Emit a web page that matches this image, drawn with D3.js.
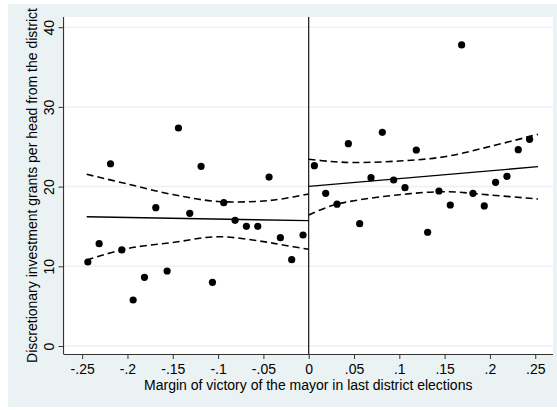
<!DOCTYPE html>
<html>
<head>
<meta charset="utf-8">
<script src="https://cdn.jsdelivr.net/npm/d3@7/dist/d3.min.js"></script>
<style>
  html, body { margin: 0; padding: 0; background: #ffffff; }
  svg { display: block; }
  text { font-family: "Liberation Sans", Arial, Helvetica, sans-serif; fill: #000; }
</style>
</head>
<body>
<svg id="chart" width="557" height="410"></svg>
<script>
// ---- data ----
const binX = [
  -0.24375, -0.23125, -0.21875, -0.20625, -0.19375, -0.18125, -0.16875, -0.15625, -0.14375, -0.13125,
  -0.11875, -0.10625, -0.09375, -0.08125, -0.06875, -0.05625, -0.04375, -0.03125, -0.01875, -0.00625,
  0.00625, 0.01875, 0.03125, 0.04375, 0.05625, 0.06875, 0.08125, 0.09375, 0.10625, 0.11875,
  0.13125, 0.14375, 0.15625, 0.16875, 0.18125, 0.19375, 0.20625, 0.21875, 0.23125, 0.24375
];
const binY = [
  10.54, 12.84, 22.87, 12.05, 5.77, 8.62, 17.35, 9.41, 27.35, 16.65,
  22.55, 7.99, 17.98, 15.77, 15.02, 15.02, 21.20, 13.59, 10.83, 13.93,
  22.62, 19.16, 17.79, 25.38, 15.35, 21.12, 26.81, 20.83, 19.86, 24.59,
  14.27, 19.45, 17.69, 37.77, 19.16, 17.57, 20.54, 21.29, 24.63, 25.93
];
// linear fits
const leftFitX = [-0.245, 0];
const leftFitY = [16.22, 15.72];
const rightFitX = [0, 0.253];
const rightFitY = [20.03, 22.50];
// confidence bands
const leftCIX = [-0.245, -0.2, -0.15, -0.1, -0.05, -0.03, 0];
const leftUpperY = [21.54, 20.33, 19.00, 18.13, 18.19, 18.45, 19.07];
const leftLowerY = [10.80, 12.23, 12.99, 13.71, 13.10, 12.70, 12.13];
const rightCIX = [0, 0.025, 0.05, 0.1, 0.15, 0.2, 0.253];
const rightUpperY = [23.43, 23.15, 23.02, 23.21, 23.75, 25.03, 26.56];
const rightLowerY = [16.44, 17.60, 18.23, 18.98, 19.36, 18.95, 18.44];
// ticks
const xTickValues = [-0.25, -0.2, -0.15, -0.1, -0.05, 0, 0.05, 0.1, 0.15, 0.2, 0.25];
const xTickLabels = ["-.25", "-.2", "-.15", "-.1", "-.05", "0", ".05", ".1", ".15", ".2", ".25"];
const yTickValues = [0, 10, 20, 30, 40];
const yTickLabels = ["0", "10", "20", "30", "40"];
const xTitle = "Margin of victory of the mayor in last district elections";
const yTitle = "Discretionary investment grants per head from the district";

// ---- layout ----
const svg = d3.select("#chart");
const bg = "#eaf2f3";
const plotL = 63.5, plotR = 553, plotT = 17, plotB = 354;

svg.append("rect").attr("x", 8).attr("y", 4).attr("width", 549).attr("height", 403).attr("fill", bg);
svg.append("rect").attr("x", 62).attr("y", plotT).attr("width", plotR - 62).attr("height", plotB - plotT).attr("fill", "#ffffff");

const x = d3.scaleLinear().domain([-0.2706, 0.2696]).range([plotL, plotR]);
const y = d3.scaleLinear().domain([0, 40]).range([346, 27.2]);

// gridlines
svg.append("g").selectAll("line").data(yTickValues).join("line")
  .attr("x1", plotL + 1).attr("x2", plotR)
  .attr("y1", d => y(d)).attr("y2", d => y(d))
  .attr("stroke", bg).attr("stroke-width", 1.5);

// vertical cutoff line
svg.append("line").attr("x1", x(0)).attr("x2", x(0)).attr("y1", plotT).attr("y2", plotB)
  .attr("stroke", "#000").attr("stroke-width", 1.1);

const line = d3.line().x(d => x(d[0])).y(d => y(d[1]));
const curve = d3.line().x(d => x(d[0])).y(d => y(d[1])).curve(d3.curveCatmullRom.alpha(0.5));
const zip = (a, b) => a.map((v, i) => [v, b[i]]);

// fits
[[leftFitX, leftFitY], [rightFitX, rightFitY]].forEach(([xs, ys]) => {
  svg.append("path").attr("d", line(zip(xs, ys))).attr("fill", "none")
    .attr("stroke", "#000").attr("stroke-width", 1.3);
});
// CI bands
[[leftCIX, leftUpperY], [leftCIX, leftLowerY], [rightCIX, rightUpperY], [rightCIX, rightLowerY]].forEach(([xs, ys]) => {
  svg.append("path").attr("d", curve(zip(xs, ys))).attr("fill", "none")
    .attr("stroke", "#000").attr("stroke-width", 1.6).attr("stroke-dasharray", "7,4");
});

// points
svg.append("g").selectAll("circle").data(zip(binX, binY)).join("circle")
  .attr("cx", d => x(d[0])).attr("cy", d => y(d[1])).attr("r", 3.6).attr("fill", "#000");

// axes
const xAxis = d3.axisBottom(x).tickValues(xTickValues).tickSize(5).tickSizeOuter(0)
  .tickFormat((d, i) => xTickLabels[i]);
const gx = svg.append("g").attr("transform", `translate(0,${plotB})`).call(xAxis);
gx.select(".domain").attr("d", `M${plotL},0.5H${plotR}`).attr("stroke", "#333").attr("stroke-width", 1.2);
gx.selectAll(".tick line").attr("stroke", "#333");
gx.selectAll(".tick text").attr("y", 20).attr("dy", 0).style("font-size", "14px")
  .style("font-family", '"Liberation Sans", Arial, sans-serif').attr("fill", "#000");

const yAxis = d3.axisLeft(y).tickValues(yTickValues).tickSize(5).tickSizeOuter(0)
  .tickFormat((d, i) => yTickLabels[i]);
const gy = svg.append("g").attr("transform", `translate(${plotL},0)`).call(yAxis);
gy.select(".domain").attr("d", `M0,${plotT}V${plotB}`).attr("stroke", "#333").attr("stroke-width", 1.2);
gy.selectAll(".tick line").attr("stroke", "#333");
gy.selectAll(".tick text").attr("transform", "rotate(-90)").attr("text-anchor", "middle")
  .attr("x", 0).attr("y", -10).attr("dy", 0).style("font-size", "14px")
  .style("font-family", '"Liberation Sans", Arial, sans-serif').attr("fill", "#000");

// titles
svg.append("text").attr("x", (plotL + plotR) / 2).attr("y", 390).attr("text-anchor", "middle")
  .style("font-size", "14px").text(xTitle);
svg.append("text").attr("transform", "translate(36.5,185.5) rotate(-90)").attr("text-anchor", "middle")
  .style("font-size", "14px").text(yTitle);
</script>
</body>
</html>
